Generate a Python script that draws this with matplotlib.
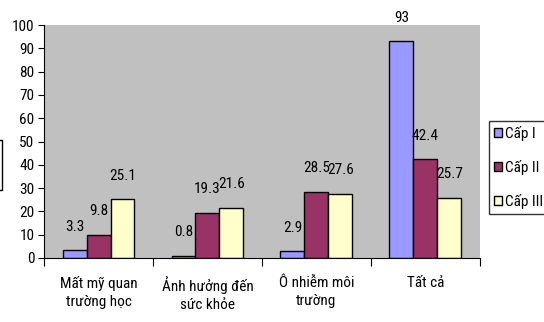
import matplotlib.pyplot as plt
import numpy as np
from matplotlib.patches import Rectangle

plt.rcParams['font.family'] = ['Roboto Condensed', 'DejaVu Sans']

categories = ["Mất mỹ quan\ntrường học", "Ảnh hưởng đến\nsức khỏe", "Ô nhiễm môi\ntrường", "Tất cả"]
series_names = ["Cấp I", "Cấp II", "Cấp III"]
cap1 = [3.3, 0.8, 2.9, 93]
cap2 = [9.8, 19.3, 28.5, 42.4]
cap3 = [25.1, 21.6, 27.6, 25.7]
colors = ["#9999FF", "#993366", "#FFFFCC"]

fig = plt.figure(figsize=(5.44, 3.22), dpi=100)
ax = fig.add_axes([0.081, 0.199, 0.801, 0.723])
ax.set_facecolor("#C0C0C0")

x = np.arange(len(categories))
w = 0.22
for i, (vals, name, c) in enumerate(zip([cap1, cap2, cap3], series_names, colors)):
    pos = x + (i - 1) * w
    ax.bar(pos, vals, w, color=c, edgecolor="black", linewidth=1, label=name)
    for p, v in zip(pos, vals):
        ax.annotate(f"{v:g}", (p, v), xytext=(0, 17), textcoords="offset points",
                    ha="center", va="center", fontsize=11)

ax.set_xlim(-0.5, len(categories) - 0.5)
ax.set_ylim(0, 100)
ax.set_yticks(range(0, 101, 10))
ax.tick_params(axis="y", labelsize=11, length=4, direction="out", pad=3)
ax.set_xticks(np.arange(-0.5, len(categories), 1))
ax.set_xticklabels([])
ax.set_xticks(x, minor=True)
ax.set_xticklabels(categories, minor=True, fontsize=11, linespacing=1.35)
ax.tick_params(axis="x", which="major", length=6, direction="out")
ax.tick_params(axis="x", which="minor", length=0, pad=13)
for s in ["top", "right"]:
    ax.spines[s].set_visible(False)

ax.legend(loc="center left", bbox_to_anchor=(0.899, 0.48), bbox_transform=fig.transFigure,
          frameon=True, fancybox=False, edgecolor="black", fontsize=11,
          handlelength=0.55, handleheight=0.55, handletextpad=0.2,
          labelspacing=1.25, borderpad=0.3, borderaxespad=0)

fig.patches.append(Rectangle((-0.05, 0.41), 0.054, 0.155, transform=fig.transFigure,
                             fill=False, edgecolor="black", linewidth=1))

fig.savefig("out.png", dpi=100)
